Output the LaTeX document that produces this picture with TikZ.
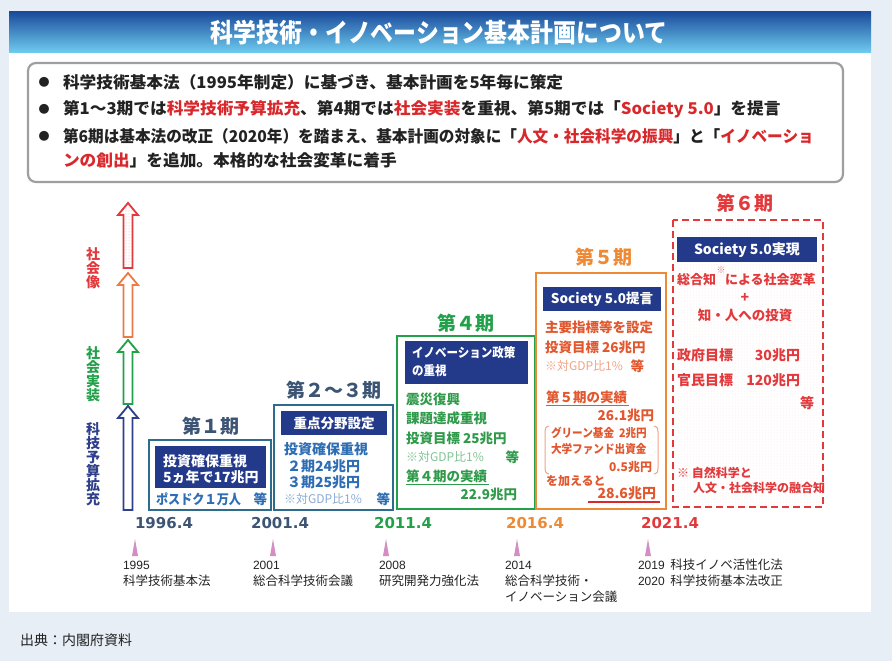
\documentclass[tikz,border=0pt]{standalone}
\usepackage{fontspec}
\setmainfont{Noto Sans CJK JP}
\newfontfamily\jp{Noto Sans CJK JP}
\newfontfamily\jpc{Noto Sans CJK JP}[FakeStretch=0.9]
\newfontfamily\jpw{Noto Sans CJK JP}[FakeStretch=1.03]
\newfontfamily\jpn{Noto Sans CJK JP}[FakeStretch=0.965]
\newfontfamily\jpt{Noto Sans CJK JP}[FakeStretch=0.88]
\newfontfamily\djv{DejaVu Sans}
\newfontfamily\lib{Liberation Sans}
\usetikzlibrary{patterns}
\newcommand\myfs[1]{\fontsize{#1}{#1}\selectfont}
\definecolor{bgc}{HTML}{E8EEF6}
\definecolor{tb1}{HTML}{1B4C9C}
\definecolor{tb2}{HTML}{2F73BE}
\definecolor{tb3}{HTML}{70CDF0}
\definecolor{rd}{HTML}{D8282C}
\definecolor{navy}{HTML}{23398A}
\definecolor{slate}{HTML}{3D5574}
\definecolor{teal1}{HTML}{2E6C8D}
\definecolor{bl}{HTML}{2D6DB3}
\definecolor{lbl}{HTML}{8AAAD5}
\definecolor{gr}{HTML}{22A04A}
\definecolor{gtx}{HTML}{2F9A4A}
\definecolor{lgr}{HTML}{80C494}
\definecolor{org}{HTML}{EE8A35}
\definecolor{otx}{HTML}{E2572E}
\definecolor{lor}{HTML}{F0A386}
\definecolor{r6}{HTML}{E23A3C}
\definecolor{pk}{HTML}{D58EC3}
\definecolor{arrO}{HTML}{EC7A48}
\definecolor{arrB}{HTML}{2E3F8C}
\definecolor{dk}{HTML}{222222}
\begin{document}
\begin{tikzpicture}[x=1pt,y=-1pt,
  t/.style={inner sep=0pt,outer sep=0pt,font={\jp\bfseries\myfs{#1}}},
  t/.default=14,
  tc/.style={inner sep=0pt,outer sep=0pt,font={\jpc\bfseries\myfs{#1}}},
  tc/.default=13,
  tr/.style={inner sep=0pt,outer sep=0pt,font={\jp\myfs{#1}},text=dk},
  tr/.default=12.5,
  dt/.style={inner sep=0pt,outer sep=0pt,font={\djv\bfseries\myfs{15}}},
  bul/.style={inner sep=0pt,outer sep=0pt,font={\jpw\bfseries\myfs{16.2}},text=dk},
  vlab/.style={inner sep=0pt,outer sep=0pt,font={\jp\bfseries\myfs{14}},align=center},
  navybox/.style={fill=navy,draw=none},
  ptitle/.style={inner sep=0pt,outer sep=0pt,font={\jp\bfseries\myfs{19}}},
  uparrow/.style={line width=1.8pt,line join=miter}
]
\useasboundingbox (0,0) rectangle (892,661);
\fill[bgc] (0,0) rectangle (892,661);
\fill[white] (9,12) rectangle (871,612);
% title bar
\shade[top color=tb1,middle color=tb2,bottom color=tb3] (9,12) rectangle (871,53);
\node[inner sep=0pt,text=white,font={\jpt\bfseries\myfs{26}}] (title) at (439,33) {科学技術・イノベーション基本計画について};
% bullet box
\draw[rounded corners=8pt,line width=2.2pt,draw=gray!75,fill=white] (28,63) rectangle (843,182);
\node[bul,font={\jp\myfs{11}},anchor=center] (b1) at (44,82) {●};
\node[bul,anchor=west] (l1) at (63,82) {科学技術基本法（1995年制定）に基づき、基本計画を5年毎に策定};
\node[bul,font={\jp\myfs{11}},anchor=center] (b2) at (44,109) {●};
\node[bul,anchor=west] (l2) at (63,109) {第1～3期では\textcolor{rd}{科学技術予算拡充}、第4期では\textcolor{rd}{社会実装}を重視、第5期では「\textcolor{rd}{Society 5.0}」を提言};
\node[bul,font={\jp\myfs{11}},anchor=center] (b3) at (44,136) {●};
\node[bul,anchor=west,font={\jpn\bfseries\myfs{16.2}}] (l3) at (63,136) {第6期は基本法の改正（2020年）を踏まえ、基本計画の対象に「\textcolor{rd}{人文・社会科学の振興}」と「\textcolor{rd}{イノベーショ}};
\node[bul,anchor=west] (l4) at (63,160) {\textcolor{rd}{ンの創出}」を追加。本格的な社会変革に着手};
% left arrows
\def\cx{128}
\fill[white] (\cx-4.5,268) -- (\cx-4.5,215) -- (\cx-10,215) -- (\cx,203) -- (\cx+10,215) -- (\cx+4.5,215) -- (\cx+4.5,268) -- cycle;
\fill[pattern=dots,pattern color=r6!45] (\cx-4.5,268) -- (\cx-4.5,215) -- (\cx-10,215) -- (\cx,203) -- (\cx+10,215) -- (\cx+4.5,215) -- (\cx+4.5,268) -- cycle;
\draw[uparrow,r6] (\cx-4.5,268) -- (\cx-4.5,215) -- (\cx-10,215) -- (\cx,203) -- (\cx+10,215) -- (\cx+4.5,215) -- (\cx+4.5,268) -- cycle;
\draw[uparrow,arrO] (\cx-4.5,337) -- (\cx-4.5,285) -- (\cx-10,285) -- (\cx,273) -- (\cx+10,285) -- (\cx+4.5,285) -- (\cx+4.5,337) -- cycle;
\draw[uparrow,gr] (\cx-4.5,404) -- (\cx-4.5,352) -- (\cx-10,352) -- (\cx,340) -- (\cx+10,352) -- (\cx+4.5,352) -- (\cx+4.5,404) -- cycle;
\draw[uparrow,arrB] (\cx-4.5,510) -- (\cx-4.5,418) -- (\cx-10,418) -- (\cx,406) -- (\cx+10,418) -- (\cx+4.5,418) -- (\cx+4.5,510) -- cycle;
\node[vlab,text=r6] (v1) at (93,268) {\baselineskip=16.5pt 社\\会\\像};
\node[vlab,text=gr] (v2) at (93,374) {\baselineskip=17pt 社\\会\\実\\装};
\node[vlab,text=arrB] (v3) at (93,464) {\baselineskip=17pt 科\\技\\予\\算\\拡\\充};
% period 1
\node[ptitle,text=slate] (p1t) at (211,426) {第１期};
\draw[teal1,line width=2.8pt] (149,440) rectangle (271,510);
\fill[navybox] (155,446) rectangle (266,488);
\node[t=14,text=white,anchor=west] (p1a) at (163,461) {投資確保重視};
\node[t=14,text=white,anchor=west] (p1b) at (163,477) {5ヵ年で17兆円};
\node[tc=13.5,text=bl,anchor=west] (p1c) at (156,499) {ポスドク１万人};
\node[t=13.5,text=bl,anchor=east] (p1d) at (267,499) {等};
% period 2-3
\node[ptitle,text=slate] (p2t) at (334,390) {第２～３期};
\draw[teal1,line width=2.8pt] (274,405) rectangle (393,510);
\fill[navybox] (281,411) rectangle (387,435);
\node[t=13.5,text=white] (p2a) at (334,423) {重点分野設定};
\node[t=14,text=bl,anchor=west] (p2b) at (284,449) {投資確保重視};
\node[t=14,text=bl,anchor=west] (p2c) at (287,466) {２期24兆円};
\node[t=14,text=bl,anchor=west] (p2d) at (287,482) {３期25兆円};
\node[tr=12,text=lbl,anchor=west] (p2e) at (284,499) {※対GDP比1\%};
\node[t=13.5,text=bl,anchor=east] (p2f) at (390,499) {等};
% period 4
\node[ptitle,text=gr] (p4t) at (466,323) {第４期};
\draw[gr,line width=2.5pt] (397,336) rectangle (535,509);
\fill[navybox] (405,341) rectangle (528,384);
\node[tc=12.8,text=white,anchor=west] (p4a) at (412,353) {イノベーション政策};
\node[tc=12.8,text=white,anchor=west] (p4b) at (412,371) {の重視};
\node[t=13.5,text=gtx,anchor=west] (p4c) at (406,399) {震災復興};
\node[t=13.5,text=gtx,anchor=west] (p4d) at (406,418) {課題達成重視};
\node[t=13.5,text=gtx,anchor=west] (p4e) at (406,438) {投資目標 25兆円};
\node[tr=12,text=lgr,anchor=west] (p4f) at (406,457) {※対GDP比1\%};
\node[t=13.5,text=gtx,anchor=east] (p4g) at (519,457) {等};
\node[t=13.5,text=gtx,anchor=west] (p4h) at (406,476) {第４期の実績};
\draw[gtx,line width=0.8pt] (p4h.south west) ++(0,2) -- ++(83,0);
\node[t=13.5,text=gtx,anchor=east] (p4i) at (517,494) {22.9兆円};
% period 5
\node[ptitle,text=org] (p5t) at (604,257) {第５期};
\draw[org,line width=2.5pt] (536,273) rectangle (666,509);
\fill[navybox] (543,287) rectangle (661,311);
\node[t=13.5,text=white] (p5a) at (602,299) {Society 5.0提言};
\node[t=13.5,text=otx,anchor=west] (p5b) at (545,327) {主要指標等を設定};
\node[t=13.5,text=otx,anchor=west] (p5c) at (545,347) {投資目標 26兆円};
\node[tr=12,text=lor,anchor=west] (p5d) at (545,366) {※対GDP比1\%};
\node[t=13.5,text=otx,anchor=east] (p5e) at (644,366) {等};
\node[t=13.5,text=otx,anchor=west] (p5f) at (546,397) {第５期の実績};
\draw[otx,line width=0.8pt] (p5f.south west) ++(0,2) -- ++(83,0);
\node[t=13.5,text=otx,anchor=east] (p5g) at (654,415) {26.1兆円};
\node[tc=11.8,text=otx,anchor=west] (p5h) at (551,433) {グリーン基金\ \ 2兆円};
\node[tc=11.8,text=otx,anchor=west] (p5i) at (551,449) {大学ファンド出資金};
\node[t=12,text=otx,anchor=east] (p5j) at (652,467) {0.5兆円};
\draw[lor,line width=1pt] (549,426) .. controls (545,427) and (545,429) .. (545,432) -- (545,468) .. controls (545,471) and (545,473) .. (549,474);
\draw[lor,line width=1pt] (654,426) .. controls (658,427) and (658,429) .. (658,432) -- (658,468) .. controls (658,471) and (658,473) .. (654,474);
\node[t=12,text=otx,anchor=west] (p5k) at (546,481) {を加えると};
\node[t=14,text=otx,anchor=east] (p5l) at (656,493) {28.6兆円};
\draw[rd,line width=2.4pt] (588,502) -- (660,502);
% period 6
\node[ptitle,text=r6] (p6t) at (745,203) {第６期};
\fill[pattern=dots,pattern color=r6!15] (673,220) rectangle (823,507);
\draw[r6,line width=2.5pt,dash pattern=on 7pt off 4pt] (673,220) rectangle (823,507);
\fill[navybox] (677,237) rectangle (817,262);
\node[t=14,text=white] (p6a) at (747,250) {Society 5.0実現};
\node[t=13,text=r6,anchor=west] (p6b) at (677,280) {総合知};
\node[tr=9,text=r6!70,anchor=center] (p6c) at (721,270) {※};
\node[t=13,text=r6,anchor=west] (p6d) at (725,280) {による社会変革};
\node[t=14,text=r6] (p6e) at (745,298) {+};
\node[t=13.5,text=r6] (p6f) at (745,315) {知・人への投資};
\node[t=14,text=r6,anchor=west] (p6g) at (677,355) {政府目標};
\node[t=14,text=r6,anchor=east] (p6h) at (800,355) {30兆円};
\node[t=14,text=r6,anchor=west] (p6i) at (677,380) {官民目標};
\node[t=14,text=r6,anchor=east] (p6j) at (800,380) {120兆円};
\node[t=14,text=r6,anchor=east] (p6k) at (814,403) {等};
\node[t=12,text=r6,anchor=west] (p6l) at (677,473) {※\ 自然科学と};
\node[t=12,text=r6,anchor=west] (p6m) at (693,488) {人文・社会科学の融合知};
% dates
\node[dt,text=slate] (d1) at (164,523) {1996.4};
\node[dt,text=slate] (d2) at (280,523) {2001.4};
\node[dt,text=gr] (d3) at (403,523) {2011.4};
\node[dt,text=org] (d4) at (535,523) {2016.4};
\node[dt,text=r6] (d5) at (670,523) {2021.4};
% triangles
\foreach \tx in {135,273,386,517,648}{
  \fill[pk] (\tx,539) -- (\tx+3,556) -- (\tx-3,556) -- cycle;
}
\node[tr,font={\lib\myfs{12}},anchor=west] (e1) at (123,565) {1995};
\node[tr,anchor=west] (e1b) at (123,581) {科学技術基本法};
\node[tr,font={\lib\myfs{12}},anchor=west] (e2) at (253,565) {2001};
\node[tr,anchor=west] (e2b) at (253,581) {総合科学技術会議};
\node[tr,font={\lib\myfs{12}},anchor=west] (e3) at (379,565) {2008};
\node[tr,anchor=west] (e3b) at (379,581) {研究開発力強化法};
\node[tr,font={\lib\myfs{12}},anchor=west] (e4) at (505,565) {2014};
\node[tr,anchor=west] (e4b) at (505,581) {総合科学技術・};
\node[tr,anchor=west] (e4c) at (505,597) {イノベーション会議};
\node[tr,anchor=west] (e5) at (638,565) {{\lib\myfs{12}2019}\ \ 科技イノベ活性化法};
\node[tr,anchor=west] (e5b) at (638,581) {{\lib\myfs{12}2020}\ \ 科学技術基本法改正};
% source
\node[tr=14,anchor=west] (src) at (20,640) {出典：内閣府資料};
\end{tikzpicture}
\end{document}
